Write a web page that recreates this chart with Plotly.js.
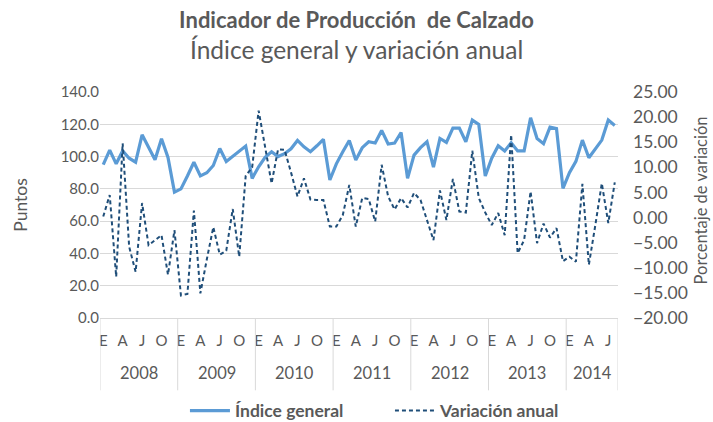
<!DOCTYPE html>
<html>
<head>
<meta charset="utf-8">
<script src="https://cdn.plot.ly/plotly-3.0.1.min.js"></script>
<style>
  html, body { margin: 0; padding: 0; background: #ffffff; }
  #chart { width: 713px; height: 422px; }
</style>
</head>
<body>
<div id="chart"></div>
<script>
// ---- Data (monthly, Jan 2008 – Aug 2014) ----
const years = ["2008", "2009", "2010", "2011", "2012", "2013", "2014"];
const monthInitials = ["E", "F", "M", "A", "M", "J", "J", "A", "S", "O", "N", "D"];

const indiceGeneral = [
  95, 104, 95.5, 103.5, 99, 96.5, 113.5, 105.5, 98, 111, 99.5, 78,
  80, 88, 96.5, 88, 90, 94.5, 105, 97, 100, 103, 106.5, 86.5,
  93.7, 99.5, 103, 100, 101.8, 104.8, 110, 106, 103, 106.7, 110.7, 85.5,
  95.5, 103, 110, 97.8, 105.5, 109.2, 108.4, 116.2, 107.8, 108.4, 114.9, 86.5,
  100.9, 105.5, 109.2, 93.5, 111.2, 108.8, 117.6, 117.6, 109.2, 122.6, 119.9, 88,
  99, 106.7, 103.5, 108.5, 103.5, 103.5, 124, 111.2, 108, 118.2, 117.3, 80.3,
  90, 97, 110.2, 99.3, 104.5, 110.2, 122.6, 119.3
];

const variacionAnual = [
  0.2, 4.5, -11.8, 14.8, -5.8, -10.8, 2.9, -5.5, -4.5, -3.5, -11.4, -2.5,
  -15.5, -15.2, 1.4, -15.1, -8.3, -1.9, -7.4, -6.6, 1.7, -7.8, 8.3, 10,
  21.3, 14, 6.8, 13.6, 13.5, 9, 4.2, 7.8, 3.6, 3.5, 3.5, -1.8,
  -1.8, 0.5, 6.5, -1.8, 3.9, 3.7, -0.8, 10.5, 4.2, 1.6, 3.9, 2,
  4.9, 3.5, -0.5, -4.5, 5.4, -0.5, 7.7, 1.2, 1.0, 13.3, 3.9, 1.0,
  -1.5, 0.9, -3.5, 16.5, -7.1, -4.5, 5.2, -5.1, -1.2, -4, -2.1, -8.7,
  -7.8, -8.8, 6.7, -9.4, -1.5, 6.8, -1.1, 7.0
];

// ---- Derived structures ----
const n = indiceGeneral.length;
const xIdx = indiceGeneral.map((_, i) => i);
const tickvals = [], ticktext = [];
xIdx.forEach(i => {
  if (i % 3 === 0) { tickvals.push(i); ticktext.push(monthInitials[i % 12]); }
});

const gridColor = "#D9D9D9";
const textColor = "#595959";
const font = "Lato, 'Open Sans', sans-serif";

// year separators and labels
const shapes = [];
const annotations = [];
years.forEach((yr, k) => {
  const start = k * 12 - 0.5;
  const end = Math.min((k + 1) * 12, n) - 0.5;
  shapes.push({type: "line", xref: "x", yref: "paper", x0: start, x1: start, y0: 0, y1: -0.32,
               line: {color: gridColor, width: 1}});
  annotations.push({text: yr, xref: "x", yref: "paper", x: (start + end) / 2, y: -0.243,
                    showarrow: false, yanchor: "middle",
                    font: {family: font, size: 16.5, color: textColor}});
});
shapes.push({type: "line", xref: "x", yref: "paper", x0: n - 0.5, x1: n - 0.5, y0: 0, y1: -0.32,
             line: {color: gridColor, width: 1}});

// subtitle and axis titles
annotations.push({text: "Índice general y variación anual", xref: "paper", yref: "paper",
                  x: 0.495, y: 1.19, showarrow: false, yanchor: "middle",
                  font: {family: font, size: 24.5, color: textColor}});
annotations.push({text: "Puntos", xref: "paper", yref: "paper", x: -0.155, y: 0.5,
                  textangle: -90, showarrow: false, xanchor: "center", yanchor: "middle",
                  font: {family: font, size: 17.5, color: textColor}});
annotations.push({text: "Porcentaje de variación", xref: "paper", yref: "paper", x: 1.161, y: 0.522,
                  textangle: -90, showarrow: false, xanchor: "center", yanchor: "middle",
                  font: {family: font, size: 16.5, color: textColor}});

const traces = [
  {x: xIdx, y: indiceGeneral, name: "<b>Índice general</b>", type: "scatter", mode: "lines",
   line: {color: "#5B9BD5", width: 3.2}, yaxis: "y"},
  {x: xIdx, y: variacionAnual, name: "<b>Variación anual</b>", type: "scatter", mode: "lines",
   line: {color: "#1F4E79", width: 2, dash: "4px,3px"}, yaxis: "y2"}
];

const layout = {
  width: 713, height: 422,
  margin: {l: 100, r: 95, t: 92, b: 104, autoexpand: false},
  paper_bgcolor: "#ffffff", plot_bgcolor: "#ffffff",
  font: {family: font, color: textColor},
  title: {text: "<b>Indicador de Producción  de Calzado</b>", x: 0.5, xanchor: "center",
          y: 0.952, yanchor: "middle", font: {family: font, size: 22, color: textColor}},
  xaxis: {range: [-0.5, n - 0.5], tickvals: tickvals, ticktext: ticktext, showgrid: false,
          zeroline: false, showline: true, linecolor: gridColor, linewidth: 1, ticks: "",
          ticklabelstandoff: 9, tickfont: {family: font, size: 15, color: textColor}},
  yaxis: {range: [0, 140], dtick: 20, tick0: 0, tickformat: ".1f", showgrid: true,
          gridcolor: gridColor, zeroline: false, showline: false, ticks: "",
          tickfont: {family: font, size: 15, color: textColor}},
  yaxis2: {range: [-20, 25], dtick: 5, tick0: 0, tickformat: ".2f", overlaying: "y", side: "right",
           showgrid: false, zeroline: false, showline: false, ticks: "", ticklabelstandoff: 14,
           tickfont: {family: font, size: 17.5, color: textColor}},
  showlegend: true,
  legend: {orientation: "h", x: 0.164, xanchor: "left", y: -0.41, yanchor: "middle",
           font: {family: font, size: 17.5, color: textColor}, itemwidth: 40, tracegroupgap: 0,
           entrywidth: 150, entrywidthmode: "pixels", bgcolor: "rgba(0,0,0,0)"},
  shapes: shapes,
  annotations: annotations
};

Plotly.newPlot("chart", traces, layout, {displayModeBar: false, staticPlot: true});
</script>
</body>
</html>
